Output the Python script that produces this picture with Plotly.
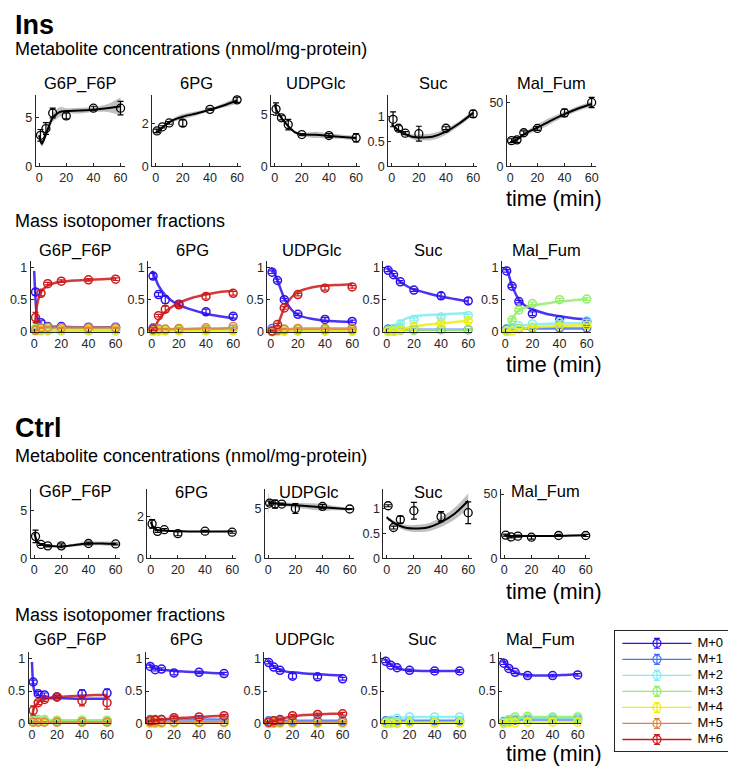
import plotly.graph_objects as go

# ---------------- data ----------------
T = [1, 5, 10, 20, 40, 60]
T_FIT = [0, 1, 2, 5, 10, 15, 20, 30, 40, 50, 60]
METABOLITES = ["G6P_F6P", "6PG", "UDPGlc", "Suc", "Mal_Fum"]
ISOTOPOMERS = ["M+0", "M+1", "M+2", "M+3", "M+4", "M+5", "M+6"]
ISO_COLORS = ["#2c10f0", "#4a72f2", "#7eeef2", "#94ee6a", "#eeee10", "#de8440", "#cc1a1a"]
X_TICKS = [0, 20, 40, 60]
CONC_Y_TICKS = [[0, 5], [0, 2], [0, 5], [0, 0.5, 1], [0, 50]]
INS_CONC_YMAX = [7.35, 3.3, 6.9, 1.44, 56]
CTRL_CONC_YMAX = [7.3, 3.33, 7.0, 1.4, 54]
MID_Y_TICKS = [0, 0.5, 1]
MID_YMAX = 1.1

# Ins - concentrations (mean, sd, fit at T_FIT, fit band half-width)
INS_G6P_F6P_CONC = [3.2, 3.9, 5.5, 5.2, 6.0, 6.0]
INS_G6P_F6P_CONC_ERR = [0.6, 0.6, 0.5, 0.3, 0.2, 0.7]
INS_G6P_F6P_CONC_FIT = [3.2, 2.6, 2.3, 3.3, 5.0, 5.6, 5.7, 5.75, 5.85, 6.0, 6.2]
INS_G6P_F6P_CONC_BAND = [0.3, 0.3, 0.3, 0.4, 0.4, 0.5, 0.3, 0.3, 0.25, 0.4, 0.9]
INS_6PG_CONC = [1.64, 1.83, 2.01, 2.0, 2.64, 3.08]
INS_6PG_CONC_ERR = [0.08, 0.05, 0.06, 0.15, 0.05, 0.12]
INS_6PG_CONC_FIT = [1.6, 1.6, 1.62, 1.8, 2.05, 2.2, 2.3, 2.45, 2.62, 2.82, 3.05]
INS_6PG_CONC_BAND = [0.1, 0.1, 0.08, 0.05, 0.06, 0.1, 0.12, 0.1, 0.06, 0.1, 0.15]
INS_UDPGLC_CONC = [5.55, 4.7, 4.04, 3.08, 2.98, 2.76]
INS_UDPGLC_CONC_ERR = [0.6, 0.2, 0.5, 0.1, 0.2, 0.4]
INS_UDPGLC_CONC_FIT = [6.0, 5.6, 5.3, 4.7, 3.9, 3.3, 3.1, 3.05, 2.95, 2.85, 2.75]
INS_UDPGLC_CONC_BAND = [0.6, 0.3, 0.2, 0.15, 0.15, 0.15, 0.15, 0.3, 0.25, 0.2, 0.2]
INS_SUC_CONC = [0.95, 0.77, 0.67, 0.66, 0.77, 1.06]
INS_SUC_CONC_ERR = [0.15, 0.05, 0.03, 0.15, 0.03, 0.07]
INS_SUC_CONC_FIT = [0.85, 0.82, 0.8, 0.73, 0.65, 0.6, 0.585, 0.6, 0.7, 0.87, 1.08]
INS_SUC_CONC_BAND = [0.04, 0.03, 0.03, 0.03, 0.03, 0.05, 0.06, 0.07, 0.06, 0.05, 0.05]
INS_MAL_FUM_CONC = [20.2, 20.8, 26.4, 29.8, 42.0, 50.2]
INS_MAL_FUM_CONC_ERR = [1.5, 2.0, 1.5, 1.5, 3.0, 4.0]
INS_MAL_FUM_CONC_FIT = [19.0, 19.3, 19.7, 21.0, 25.0, 28.0, 30.5, 36.0, 41.0, 45.5, 49.0]
INS_MAL_FUM_CONC_BAND = [1.0, 1.0, 1.0, 1.2, 1.5, 2.0, 2.5, 2.5, 2.0, 2.0, 2.0]

# Ctrl - concentrations
CTRL_G6P_F6P_CONC = [2.3, 1.45, 1.3, 1.3, 1.55, 1.5]
CTRL_G6P_F6P_CONC_ERR = [0.65, 0.1, 0.1, 0.2, 0.15, 0.1]
CTRL_G6P_F6P_CONC_FIT = [2.6, 2.2, 1.8, 1.45, 1.3, 1.25, 1.25, 1.4, 1.55, 1.55, 1.5]
CTRL_G6P_F6P_CONC_BAND = [0.5, 0.3, 0.15, 0.08, 0.06, 0.06, 0.08, 0.15, 0.2, 0.2, 0.25]
CTRL_6PG_CONC = [1.65, 1.29, 1.37, 1.18, 1.3, 1.25]
CTRL_6PG_CONC_ERR = [0.2, 0.05, 0.05, 0.1, 0.04, 0.05]
CTRL_6PG_CONC_FIT = [1.75, 1.6, 1.5, 1.35, 1.33, 1.31, 1.3, 1.28, 1.28, 1.28, 1.3]
CTRL_6PG_CONC_BAND = [0.4, 0.15, 0.08, 0.04, 0.03, 0.03, 0.03, 0.03, 0.03, 0.03, 0.04]
CTRL_UDPGLC_CONC = [5.57, 5.47, 5.47, 5.03, 5.23, 4.97]
CTRL_UDPGLC_CONC_ERR = [0.2, 0.4, 0.1, 0.5, 0.2, 0.05]
CTRL_UDPGLC_CONC_FIT = [5.6, 5.58, 5.57, 5.55, 5.45, 5.4, 5.35, 5.25, 5.15, 5.05, 4.95]
CTRL_UDPGLC_CONC_BAND = [1.2, 0.4, 0.2, 0.15, 0.15, 0.2, 0.25, 0.3, 0.35, 0.2, 0.1]
CTRL_SUC_CONC = [1.06, 0.62, 0.78, 0.96, 0.84, 0.92]
CTRL_SUC_CONC_ERR = [0.02, 0.03, 0.07, 0.17, 0.1, 0.22]
CTRL_SUC_CONC_FIT = [0.83, 0.8, 0.78, 0.72, 0.65, 0.61, 0.6, 0.62, 0.73, 0.9, 1.16]
CTRL_SUC_CONC_BAND = [0.04, 0.04, 0.04, 0.04, 0.05, 0.06, 0.07, 0.08, 0.1, 0.12, 0.15]
CTRL_MAL_FUM_CONC = [18.0, 16.6, 17.2, 16.4, 17.7, 17.7]
CTRL_MAL_FUM_CONC_ERR = [0.8, 0.8, 0.8, 1.5, 0.8, 0.8]
CTRL_MAL_FUM_CONC_FIT = [17.8, 17.7, 17.6, 17.4, 17.3, 17.3, 17.3, 17.3, 17.4, 17.6, 17.8]
CTRL_MAL_FUM_CONC_BAND = [0.8, 0.6, 0.5, 0.5, 0.5, 0.5, 0.5, 0.5, 0.6, 0.6, 0.8]

# Ins - mass isotopomer fractions (rows: M+0 ... M+6; None = not present)
INS_G6P_F6P_MID = [
    [0.62, 0.14, 0.08, 0.08, 0.07, 0.07],
    [0.03, 0.03, 0.02, 0.02, 0.02, 0.02],
    [0.02, 0.01, 0.01, 0.01, 0.01, 0.01],
    [0.05, 0.04, 0.04, 0.04, 0.04, 0.04],
    [0.01, 0.02, 0.02, 0.02, 0.02, 0.02],
    [0.02, 0.06, 0.07, 0.06, 0.06, 0.06],
    [0.22, 0.60, 0.75, 0.79, 0.81, 0.82],
]
INS_G6P_F6P_MID_ERR = [
    [0.05, 0.03, 0.01, 0.01, 0.01, 0.01],
    [0.01, 0.01, 0.01, 0.01, 0.01, 0.01],
    [0.01, 0.01, 0.01, 0.01, 0.01, 0.01],
    [0.01, 0.01, 0.01, 0.01, 0.01, 0.01],
    [0.01, 0.01, 0.01, 0.01, 0.01, 0.01],
    [0.01, 0.01, 0.01, 0.01, 0.01, 0.01],
    [0.08, 0.04, 0.02, 0.02, 0.02, 0.02],
]
INS_G6P_F6P_MID_FIT = [
    [0.95, 0.50, 0.25, 0.11, 0.08, 0.075, 0.075, 0.07, 0.07, 0.07, 0.07],
    [0.0, 0.04, 0.04, 0.03, 0.025, 0.02, 0.02, 0.02, 0.02, 0.02, 0.02],
    [0.0, 0.02, 0.02, 0.015, 0.01, 0.01, 0.01, 0.01, 0.01, 0.01, 0.01],
    [0.0, 0.04, 0.05, 0.045, 0.04, 0.04, 0.04, 0.04, 0.04, 0.04, 0.04],
    [0.0, 0.01, 0.015, 0.02, 0.02, 0.02, 0.02, 0.02, 0.02, 0.02, 0.02],
    [0.0, 0.02, 0.04, 0.06, 0.065, 0.065, 0.065, 0.065, 0.065, 0.065, 0.065],
    [0.0, 0.20, 0.40, 0.62, 0.72, 0.76, 0.78, 0.80, 0.81, 0.82, 0.83],
]
INS_6PG_MID = [
    [0.87, 0.58, 0.50, 0.43, 0.31, 0.24],
    [0.06, 0.04, 0.03, 0.03, 0.03, 0.03],
    [0.02, 0.02, 0.02, 0.02, 0.02, 0.02],
    [0.01, 0.01, 0.02, 0.02, 0.02, 0.02],
    [0.0, 0.01, 0.01, 0.01, 0.01, 0.01],
    [0.03, 0.04, 0.04, 0.05, 0.06, 0.08],
    [0.04, 0.25, 0.35, 0.42, 0.55, 0.60],
]
INS_6PG_MID_ERR = [
    [0.04, 0.03, 0.06, 0.03, 0.04, 0.03],
    [0.01, 0.01, 0.01, 0.01, 0.01, 0.01],
    [0.01, 0.01, 0.01, 0.01, 0.01, 0.01],
    [0.01, 0.01, 0.01, 0.01, 0.01, 0.01],
    [0.01, 0.01, 0.01, 0.01, 0.01, 0.01],
    [0.01, 0.01, 0.01, 0.01, 0.01, 0.02],
    [0.02, 0.02, 0.05, 0.03, 0.04, 0.03],
]
INS_6PG_MID_FIT = [
    [0.95, 0.92, 0.87, 0.72, 0.57, 0.48, 0.42, 0.34, 0.28, 0.24, 0.21],
    [0.0, 0.03, 0.04, 0.04, 0.035, 0.03, 0.03, 0.03, 0.03, 0.03, 0.03],
    [0.0, 0.01, 0.015, 0.02, 0.02, 0.02, 0.02, 0.02, 0.02, 0.02, 0.02],
    [0.0, 0.01, 0.01, 0.015, 0.02, 0.02, 0.02, 0.02, 0.02, 0.02, 0.02],
    [0.0, 0.005, 0.01, 0.01, 0.01, 0.01, 0.01, 0.01, 0.01, 0.01, 0.01],
    [0.0, 0.02, 0.025, 0.03, 0.035, 0.04, 0.04, 0.045, 0.05, 0.05, 0.055],
    [0.0, 0.02, 0.05, 0.18, 0.31, 0.39, 0.45, 0.53, 0.58, 0.62, 0.64],
]
INS_UDPGLC_MID = [
    [0.93, 0.80, 0.50, 0.27, 0.19, 0.16],
    [0.05, 0.03, 0.02, 0.02, 0.02, 0.02],
    [0.01, 0.01, 0.01, 0.01, 0.01, 0.01],
    [0.0, 0.01, 0.01, 0.01, 0.01, 0.01],
    [0.0, 0.0, 0.01, 0.01, 0.01, 0.01],
    [0.0, 0.02, 0.04, 0.05, 0.05, 0.05],
    [0.01, 0.11, 0.37, 0.58, 0.68, 0.70],
]
INS_UDPGLC_MID_ERR = [
    [0.02, 0.02, 0.02, 0.02, 0.03, 0.02],
    [0.01, 0.01, 0.01, 0.01, 0.01, 0.01],
    [0.01, 0.01, 0.01, 0.01, 0.01, 0.01],
    [0.01, 0.01, 0.01, 0.01, 0.01, 0.01],
    [0.01, 0.01, 0.01, 0.01, 0.01, 0.01],
    [0.01, 0.01, 0.01, 0.01, 0.01, 0.01],
    [0.01, 0.02, 0.02, 0.02, 0.03, 0.02],
]
INS_UDPGLC_MID_FIT = [
    [1.0, 0.98, 0.95, 0.80, 0.52, 0.35, 0.26, 0.20, 0.17, 0.16, 0.15],
    [0.0, 0.02, 0.03, 0.03, 0.025, 0.02, 0.02, 0.02, 0.02, 0.02, 0.02],
    [0.0, 0.005, 0.01, 0.01, 0.01, 0.01, 0.01, 0.01, 0.01, 0.01, 0.01],
    [0.0, 0.0, 0.005, 0.01, 0.01, 0.01, 0.01, 0.01, 0.01, 0.01, 0.01],
    [0.0, 0.0, 0.0, 0.005, 0.01, 0.01, 0.01, 0.01, 0.01, 0.01, 0.01],
    [0.0, 0.0, 0.005, 0.02, 0.035, 0.04, 0.045, 0.05, 0.05, 0.05, 0.05],
    [0.0, 0.0, 0.01, 0.10, 0.37, 0.53, 0.62, 0.69, 0.72, 0.73, 0.74],
]
INS_SUC_MID = [
    [0.96, 0.89, 0.78, 0.65, 0.56, 0.48],
    [0.04, 0.04, 0.03, 0.03, 0.03, 0.03],
    [0.01, 0.04, 0.12, 0.19, 0.23, 0.25],
    [0.02, 0.02, 0.02, 0.02, 0.03, 0.03],
    [0.0, 0.0, 0.03, 0.08, 0.13, 0.17],
    None,
    None,
]
INS_SUC_MID_ERR = [
    [0.02, 0.02, 0.02, 0.02, 0.05, 0.05],
    [0.01, 0.01, 0.01, 0.01, 0.01, 0.01],
    [0.01, 0.01, 0.01, 0.02, 0.02, 0.02],
    [0.01, 0.01, 0.01, 0.01, 0.01, 0.01],
    [0.01, 0.01, 0.01, 0.02, 0.03, 0.03],
    None,
    None,
]
INS_SUC_MID_FIT = [
    [1.0, 0.99, 0.97, 0.88, 0.78, 0.71, 0.66, 0.60, 0.55, 0.51, 0.47],
    [0.0, 0.03, 0.04, 0.04, 0.03, 0.03, 0.03, 0.03, 0.03, 0.03, 0.03],
    [0.0, 0.0, 0.01, 0.05, 0.15, 0.21, 0.24, 0.26, 0.27, 0.28, 0.29],
    [0.0, 0.01, 0.01, 0.015, 0.02, 0.02, 0.02, 0.02, 0.02, 0.02, 0.02],
    [0.0, 0.0, 0.0, 0.01, 0.04, 0.06, 0.08, 0.11, 0.13, 0.15, 0.17],
    None,
    None,
]
INS_MAL_FUM_MID = [
    [0.95, 0.71, 0.47, 0.28, 0.18, 0.16],
    [0.04, 0.05, 0.05, 0.06, 0.06, 0.06],
    [0.02, 0.06, 0.09, 0.12, 0.15, 0.17],
    [0.01, 0.18, 0.34, 0.44, 0.50, 0.51],
    [0.0, 0.01, 0.04, 0.07, 0.09, 0.10],
    None,
    None,
]
INS_MAL_FUM_MID_ERR = [
    [0.02, 0.02, 0.02, 0.03, 0.02, 0.02],
    [0.01, 0.01, 0.01, 0.01, 0.01, 0.01],
    [0.01, 0.01, 0.01, 0.01, 0.02, 0.02],
    [0.01, 0.02, 0.02, 0.02, 0.02, 0.02],
    [0.01, 0.01, 0.01, 0.01, 0.02, 0.02],
    None,
    None,
]
INS_MAL_FUM_MID_FIT = [
    [1.0, 0.97, 0.92, 0.72, 0.50, 0.40, 0.35, 0.28, 0.24, 0.21, 0.19],
    [0.0, 0.02, 0.03, 0.04, 0.05, 0.05, 0.05, 0.05, 0.05, 0.05, 0.05],
    [0.0, 0.0, 0.01, 0.04, 0.08, 0.10, 0.11, 0.12, 0.13, 0.13, 0.14],
    [0.0, 0.01, 0.04, 0.20, 0.33, 0.38, 0.41, 0.44, 0.47, 0.49, 0.51],
    [0.0, 0.0, 0.0, 0.01, 0.04, 0.055, 0.07, 0.08, 0.09, 0.095, 0.10],
    None,
    None,
]

# Ctrl - mass isotopomer fractions
CTRL_G6P_F6P_MID = [
    [0.64, 0.46, 0.44, 0.41, 0.46, 0.47],
    [0.03, 0.03, 0.03, 0.03, 0.03, 0.03],
    [0.04, 0.04, 0.04, 0.04, 0.04, 0.04],
    [0.06, 0.06, 0.06, 0.05, 0.05, 0.05],
    [0.02, 0.03, 0.03, 0.02, 0.02, 0.02],
    [0.02, 0.02, 0.02, 0.02, 0.02, 0.02],
    [0.20, 0.32, 0.37, 0.41, 0.35, 0.32],
]
CTRL_G6P_F6P_MID_ERR = [
    [0.03, 0.03, 0.03, 0.02, 0.06, 0.06],
    [0.01, 0.01, 0.01, 0.01, 0.01, 0.01],
    [0.01, 0.01, 0.01, 0.01, 0.01, 0.01],
    [0.01, 0.01, 0.01, 0.01, 0.01, 0.01],
    [0.01, 0.01, 0.01, 0.01, 0.01, 0.01],
    [0.01, 0.01, 0.01, 0.01, 0.01, 0.01],
    [0.07, 0.03, 0.03, 0.03, 0.08, 0.10],
]
CTRL_G6P_F6P_MID_FIT = [
    [0.95, 0.60, 0.50, 0.44, 0.40, 0.39, 0.39, 0.385, 0.38, 0.38, 0.38],
    [0.0, 0.03, 0.03, 0.03, 0.03, 0.03, 0.03, 0.03, 0.03, 0.03, 0.03],
    [0.0, 0.03, 0.04, 0.04, 0.04, 0.04, 0.04, 0.04, 0.04, 0.04, 0.04],
    [0.0, 0.04, 0.05, 0.05, 0.05, 0.05, 0.05, 0.05, 0.05, 0.05, 0.05],
    [0.0, 0.02, 0.02, 0.02, 0.02, 0.02, 0.02, 0.02, 0.02, 0.02, 0.02],
    [0.0, 0.02, 0.02, 0.02, 0.02, 0.02, 0.02, 0.02, 0.02, 0.02, 0.02],
    [0.05, 0.20, 0.25, 0.33, 0.38, 0.40, 0.41, 0.42, 0.43, 0.44, 0.44],
]
CTRL_6PG_MID = [
    [0.88, 0.83, 0.84, 0.78, 0.79, 0.77],
    [0.06, 0.06, 0.06, 0.06, 0.06, 0.06],
    [0.02, 0.02, 0.02, 0.02, 0.02, 0.02],
    [0.0, 0.0, 0.01, 0.01, 0.02, 0.02],
    [0.0, 0.0, 0.0, 0.01, 0.01, 0.01],
    [0.02, 0.02, 0.02, 0.02, 0.02, 0.02],
    [0.04, 0.05, 0.06, 0.09, 0.10, 0.12],
]
CTRL_6PG_MID_ERR = [
    [0.02, 0.02, 0.02, 0.03, 0.02, 0.02],
    [0.01, 0.01, 0.01, 0.01, 0.01, 0.01],
    [0.01, 0.01, 0.01, 0.01, 0.01, 0.01],
    [0.01, 0.01, 0.01, 0.01, 0.01, 0.01],
    [0.01, 0.01, 0.01, 0.01, 0.01, 0.01],
    [0.01, 0.01, 0.01, 0.01, 0.01, 0.01],
    [0.01, 0.01, 0.01, 0.02, 0.02, 0.02],
]
CTRL_6PG_MID_FIT = [
    [0.92, 0.90, 0.88, 0.85, 0.83, 0.82, 0.81, 0.80, 0.79, 0.78, 0.77],
    [0.0, 0.05, 0.06, 0.06, 0.06, 0.06, 0.06, 0.06, 0.06, 0.06, 0.06],
    [0.0, 0.02, 0.02, 0.02, 0.02, 0.02, 0.02, 0.02, 0.02, 0.02, 0.02],
    [0.0, 0.0, 0.005, 0.01, 0.01, 0.015, 0.015, 0.02, 0.02, 0.02, 0.02],
    [0.0, 0.0, 0.0, 0.005, 0.01, 0.01, 0.01, 0.01, 0.01, 0.01, 0.01],
    [0.0, 0.02, 0.02, 0.02, 0.02, 0.02, 0.02, 0.02, 0.02, 0.02, 0.02],
    [0.01, 0.03, 0.04, 0.05, 0.06, 0.07, 0.08, 0.09, 0.10, 0.11, 0.12],
]
CTRL_UDPGLC_MID = [
    [0.94, 0.87, 0.82, 0.73, 0.72, 0.69],
    [0.04, 0.04, 0.04, 0.04, 0.04, 0.04],
    [0.01, 0.01, 0.01, 0.01, 0.01, 0.01],
    [0.0, 0.01, 0.01, 0.01, 0.01, 0.01],
    [0.0, 0.0, 0.0, 0.0, 0.0, 0.0],
    [0.01, 0.01, 0.02, 0.02, 0.02, 0.02],
    [0.02, 0.04, 0.06, 0.12, 0.14, 0.15],
]
CTRL_UDPGLC_MID_ERR = [
    [0.02, 0.02, 0.02, 0.04, 0.03, 0.02],
    [0.01, 0.01, 0.01, 0.01, 0.01, 0.01],
    [0.01, 0.01, 0.01, 0.01, 0.01, 0.01],
    [0.01, 0.01, 0.01, 0.01, 0.01, 0.01],
    [0.01, 0.01, 0.01, 0.01, 0.01, 0.01],
    [0.01, 0.01, 0.01, 0.01, 0.01, 0.01],
    [0.01, 0.01, 0.01, 0.02, 0.02, 0.02],
]
CTRL_UDPGLC_MID_FIT = [
    [0.98, 0.96, 0.94, 0.88, 0.83, 0.80, 0.79, 0.77, 0.76, 0.75, 0.74],
    [0.0, 0.03, 0.04, 0.04, 0.04, 0.04, 0.04, 0.04, 0.04, 0.04, 0.04],
    [0.0, 0.01, 0.01, 0.01, 0.01, 0.01, 0.01, 0.01, 0.01, 0.01, 0.01],
    [0.0, 0.0, 0.005, 0.01, 0.01, 0.01, 0.01, 0.01, 0.01, 0.01, 0.01],
    [0.0, 0.0, 0.0, 0.0, 0.005, 0.005, 0.005, 0.005, 0.005, 0.005, 0.005],
    [0.0, 0.005, 0.01, 0.015, 0.02, 0.02, 0.02, 0.02, 0.02, 0.02, 0.02],
    [0.0, 0.01, 0.02, 0.04, 0.07, 0.09, 0.11, 0.13, 0.14, 0.15, 0.15],
]
CTRL_SUC_MID = [
    [0.96, 0.90, 0.86, 0.82, 0.81, 0.81],
    [0.04, 0.04, 0.04, 0.04, 0.04, 0.04],
    [0.02, 0.05, 0.08, 0.10, 0.10, 0.10],
    [0.01, 0.01, 0.01, 0.01, 0.01, 0.01],
    [0.0, 0.0, 0.0, 0.01, 0.01, 0.01],
    None,
    None,
]
CTRL_SUC_MID_ERR = [
    [0.02, 0.02, 0.02, 0.02, 0.02, 0.02],
    [0.01, 0.01, 0.01, 0.01, 0.01, 0.01],
    [0.01, 0.01, 0.01, 0.01, 0.01, 0.01],
    [0.01, 0.01, 0.01, 0.01, 0.01, 0.01],
    [0.01, 0.01, 0.01, 0.01, 0.01, 0.01],
    None,
    None,
]
CTRL_SUC_MID_FIT = [
    [1.0, 0.98, 0.96, 0.91, 0.86, 0.83, 0.82, 0.81, 0.81, 0.81, 0.81],
    [0.0, 0.03, 0.04, 0.04, 0.04, 0.04, 0.04, 0.04, 0.04, 0.04, 0.04],
    [0.0, 0.01, 0.02, 0.05, 0.08, 0.09, 0.10, 0.10, 0.10, 0.10, 0.10],
    [0.0, 0.01, 0.01, 0.01, 0.01, 0.01, 0.01, 0.01, 0.01, 0.01, 0.01],
    [0.0, 0.0, 0.0, 0.0, 0.005, 0.01, 0.01, 0.01, 0.01, 0.01, 0.01],
    None,
    None,
]
CTRL_MAL_FUM_MID = [
    [0.93, 0.85, 0.79, 0.74, 0.74, 0.75],
    [0.03, 0.04, 0.05, 0.06, 0.06, 0.06],
    [0.02, 0.05, 0.07, 0.08, 0.08, 0.08],
    [0.0, 0.06, 0.10, 0.11, 0.10, 0.10],
    [0.0, 0.01, 0.01, 0.02, 0.02, 0.02],
    None,
    None,
]
CTRL_MAL_FUM_MID_ERR = [
    [0.02, 0.02, 0.02, 0.02, 0.02, 0.02],
    [0.01, 0.01, 0.01, 0.01, 0.01, 0.01],
    [0.01, 0.01, 0.01, 0.01, 0.01, 0.01],
    [0.01, 0.01, 0.02, 0.02, 0.02, 0.02],
    [0.01, 0.01, 0.01, 0.01, 0.01, 0.01],
    None,
    None,
]
CTRL_MAL_FUM_MID_FIT = [
    [1.0, 0.97, 0.94, 0.85, 0.79, 0.76, 0.75, 0.74, 0.74, 0.75, 0.76],
    [0.0, 0.02, 0.03, 0.04, 0.05, 0.06, 0.06, 0.06, 0.06, 0.06, 0.06],
    [0.0, 0.01, 0.02, 0.05, 0.07, 0.08, 0.08, 0.08, 0.08, 0.08, 0.08],
    [0.0, 0.01, 0.02, 0.06, 0.09, 0.10, 0.10, 0.10, 0.10, 0.10, 0.10],
    [0.0, 0.0, 0.0, 0.005, 0.01, 0.015, 0.02, 0.02, 0.02, 0.02, 0.02],
    None,
    None,
]

# ---------------- assemble ----------------
INS_CONC = [
    (INS_G6P_F6P_CONC, INS_G6P_F6P_CONC_ERR, INS_G6P_F6P_CONC_FIT, INS_G6P_F6P_CONC_BAND),
    (INS_6PG_CONC, INS_6PG_CONC_ERR, INS_6PG_CONC_FIT, INS_6PG_CONC_BAND),
    (INS_UDPGLC_CONC, INS_UDPGLC_CONC_ERR, INS_UDPGLC_CONC_FIT, INS_UDPGLC_CONC_BAND),
    (INS_SUC_CONC, INS_SUC_CONC_ERR, INS_SUC_CONC_FIT, INS_SUC_CONC_BAND),
    (INS_MAL_FUM_CONC, INS_MAL_FUM_CONC_ERR, INS_MAL_FUM_CONC_FIT, INS_MAL_FUM_CONC_BAND),
]
CTRL_CONC = [
    (CTRL_G6P_F6P_CONC, CTRL_G6P_F6P_CONC_ERR, CTRL_G6P_F6P_CONC_FIT, CTRL_G6P_F6P_CONC_BAND),
    (CTRL_6PG_CONC, CTRL_6PG_CONC_ERR, CTRL_6PG_CONC_FIT, CTRL_6PG_CONC_BAND),
    (CTRL_UDPGLC_CONC, CTRL_UDPGLC_CONC_ERR, CTRL_UDPGLC_CONC_FIT, CTRL_UDPGLC_CONC_BAND),
    (CTRL_SUC_CONC, CTRL_SUC_CONC_ERR, CTRL_SUC_CONC_FIT, CTRL_SUC_CONC_BAND),
    (CTRL_MAL_FUM_CONC, CTRL_MAL_FUM_CONC_ERR, CTRL_MAL_FUM_CONC_FIT, CTRL_MAL_FUM_CONC_BAND),
]
INS_MIDS = [
    (INS_G6P_F6P_MID, INS_G6P_F6P_MID_ERR, INS_G6P_F6P_MID_FIT),
    (INS_6PG_MID, INS_6PG_MID_ERR, INS_6PG_MID_FIT),
    (INS_UDPGLC_MID, INS_UDPGLC_MID_ERR, INS_UDPGLC_MID_FIT),
    (INS_SUC_MID, INS_SUC_MID_ERR, INS_SUC_MID_FIT),
    (INS_MAL_FUM_MID, INS_MAL_FUM_MID_ERR, INS_MAL_FUM_MID_FIT),
]
CTRL_MIDS = [
    (CTRL_G6P_F6P_MID, CTRL_G6P_F6P_MID_ERR, CTRL_G6P_F6P_MID_FIT),
    (CTRL_6PG_MID, CTRL_6PG_MID_ERR, CTRL_6PG_MID_FIT),
    (CTRL_UDPGLC_MID, CTRL_UDPGLC_MID_ERR, CTRL_UDPGLC_MID_FIT),
    (CTRL_SUC_MID, CTRL_SUC_MID_ERR, CTRL_SUC_MID_FIT),
    (CTRL_MAL_FUM_MID, CTRL_MAL_FUM_MID_ERR, CTRL_MAL_FUM_MID_FIT),
]

# ---------------- layout geometry (window pixels) ----------------
WIN_W, WIN_H = 736, 774
PAGE_OFFSET = 8                      # default page margin of the html body
W, H = WIN_W - PAGE_OFFSET, WIN_H - PAGE_OFFSET
FONT = "Liberation Sans, Arial, Helvetica, sans-serif"
AX_COLOR = "#262626"
ROW_Y_PX = [(95, 167), (263, 334), (493, 563), (658, 730)]
ROW_LEFT_PX = [
    [30, 148, 268.5, 387, 507],
    [25, 144, 264.5, 382, 502],
    [25, 143, 262, 382, 501],
    [23, 141.5, 261.5, 380, 499.5],
]
ROW_WIDTH_PX = [90, 90, 90, 83]
TITLE_Y_PX = [83, 252, 496, 645]
TIME_LABEL_Y_PX = [200, 368, 597, 760.5]
X_RANGE = [-2.5, 63]


def px(x):
    return (x - PAGE_OFFSET) / W


def py(y):
    return 1 - (y - PAGE_OFFSET) / H


fig = go.Figure()
layout_axes = {}
annotations = []


def axis_names(k):
    return ("x" if k == 1 else f"x{k}"), ("y" if k == 1 else f"y{k}")


for r in range(4):
    for c in range(5):
        k = r * 5 + c + 1
        xname, yname = axis_names(k)
        left = ROW_LEFT_PX[r][c]
        xdom = [px(left), px(left + ROW_WIDTH_PX[r])]
        ydom = [py(ROW_Y_PX[r][1]), py(ROW_Y_PX[r][0])]
        is_conc = r in (0, 2)
        if is_conc:
            ymax = (INS_CONC_YMAX if r == 0 else CTRL_CONC_YMAX)[c]
            yticks = CONC_Y_TICKS[c]
        else:
            ymax = MID_YMAX
            yticks = MID_Y_TICKS
        common = dict(showline=True, linecolor=AX_COLOR, linewidth=1, showgrid=False,
                      zeroline=False, ticks="inside", ticklen=3, tickcolor=AX_COLOR,
                      tickfont=dict(family=FONT, size=12.5, color=AX_COLOR))
        layout_axes["xaxis" if k == 1 else f"xaxis{k}"] = dict(
            domain=xdom, range=X_RANGE, anchor=yname, tickvals=X_TICKS,
            ticktext=[str(v) for v in X_TICKS], **common)
        layout_axes["yaxis" if k == 1 else f"yaxis{k}"] = dict(
            domain=ydom, range=[0, ymax], anchor=xname, tickvals=yticks,
            ticktext=[("%g" % v) for v in yticks], **common)
        annotations.append(dict(text=METABOLITES[c], x=px(left + ROW_WIDTH_PX[r] / 2),
                                y=py(TITLE_Y_PX[r]), xref="paper", yref="paper",
                                xanchor="center", yanchor="middle", showarrow=False,
                                font=dict(family=FONT, size=16.5, color="black")))

        if is_conc:
            mean, err, fit, band = (INS_CONC if r == 0 else CTRL_CONC)[c]
            upper = [f + b for f, b in zip(fit, band)]
            lower = [f - b for f, b in zip(fit, band)]
            fig.add_trace(go.Scatter(x=T_FIT, y=upper, mode="lines", xaxis=xname, yaxis=yname,
                                     line=dict(width=0, shape="spline", smoothing=0.8),
                                     showlegend=False, hoverinfo="skip"))
            fig.add_trace(go.Scatter(x=T_FIT, y=lower, mode="lines", xaxis=xname, yaxis=yname,
                                     fill="tonexty", fillcolor="rgba(150,150,150,0.6)",
                                     line=dict(width=0, shape="spline", smoothing=0.8),
                                     showlegend=False, hoverinfo="skip"))
            fig.add_trace(go.Scatter(x=T_FIT, y=fit, mode="lines", xaxis=xname, yaxis=yname,
                                     line=dict(color="black", width=2, shape="spline", smoothing=0.8),
                                     showlegend=False, cliponaxis=False))
            fig.add_trace(go.Scatter(x=T, y=mean, mode="markers", xaxis=xname, yaxis=yname,
                                     marker=dict(symbol="circle-open", size=8, color="black",
                                                 line=dict(width=1.3)),
                                     error_y=dict(type="data", array=err, visible=True,
                                                  color="black", thickness=1.2, width=3),
                                     showlegend=False, cliponaxis=False))
        else:
            means, errs, fits = (INS_MIDS if r == 1 else CTRL_MIDS)[c]
            for i in range(len(ISOTOPOMERS)):
                if fits[i] is None:
                    continue
                fig.add_trace(go.Scatter(x=T_FIT, y=fits[i], mode="lines", xaxis=xname, yaxis=yname,
                                         line=dict(color=ISO_COLORS[i], width=2.5, shape="spline",
                                                   smoothing=0.6),
                                         opacity=0.85, showlegend=False, cliponaxis=False))
            for i in range(len(ISOTOPOMERS)):
                if means[i] is None:
                    continue
                fig.add_trace(go.Scatter(x=T, y=means[i], mode="markers", xaxis=xname, yaxis=yname,
                                         marker=dict(symbol="circle-open", size=8, color=ISO_COLORS[i],
                                                     line=dict(width=1.5)),
                                         error_y=dict(type="data", array=errs[i], visible=True,
                                                      color=ISO_COLORS[i], thickness=1.2, width=3),
                                         name=ISOTOPOMERS[i], showlegend=False, cliponaxis=False))

# ---------------- legend box (drawn in its own small axis) ----------------
LEG_LEFT, LEG_RIGHT, LEG_TOP, LEG_BOTTOM = 617, 733, 637, 758
LEG_ROW_PX = 16.2
lk = 21
lx, ly = axis_names(lk)
layout_axes[f"xaxis{lk}"] = dict(domain=[px(LEG_LEFT), px(LEG_RIGHT)], range=[0, LEG_RIGHT - LEG_LEFT],
                                 anchor=ly, showline=True, mirror=True, linecolor=AX_COLOR, linewidth=1,
                                 showticklabels=False, ticks="", showgrid=False, zeroline=False,
                                 fixedrange=True)
layout_axes[f"yaxis{lk}"] = dict(domain=[py(LEG_BOTTOM), py(LEG_TOP)], range=[LEG_BOTTOM - LEG_TOP, 0],
                                 anchor=lx, showline=True, mirror=True, linecolor=AX_COLOR, linewidth=1,
                                 showticklabels=False, ticks="", showgrid=False, zeroline=False,
                                 fixedrange=True)
for i, name in enumerate(ISOTOPOMERS):
    yy = 12 + LEG_ROW_PX * i
    fig.add_trace(go.Scatter(x=[7, 77], y=[yy, yy], mode="lines", xaxis=lx, yaxis=ly,
                             line=dict(color=ISO_COLORS[i], width=1.3), showlegend=False,
                             hoverinfo="skip"))
    fig.add_trace(go.Scatter(x=[42], y=[yy], mode="markers", xaxis=lx, yaxis=ly,
                             marker=dict(symbol="circle-open", size=8, color=ISO_COLORS[i],
                                         line=dict(width=1.3)),
                             error_y=dict(type="constant", value=5, color=ISO_COLORS[i],
                                          thickness=1.2, width=3),
                             showlegend=False, hoverinfo="skip", cliponaxis=False))
    fig.add_trace(go.Scatter(x=[83], y=[yy], mode="text", text=[name], textposition="middle right",
                             xaxis=lx, yaxis=ly, textfont=dict(family=FONT, size=13, color="black"),
                             showlegend=False, hoverinfo="skip", cliponaxis=False))

# ---------------- headers ----------------
HEADERS = [
    ("<b>Ins</b>", 8, 24, 27),
    ("Metabolite concentrations (nmol/mg-protein)", 8, 48, 18),
    ("Mass isotopomer fractions", 8, 222, 18),
    ("<b>Ctrl</b>", 8, 431, 27),
    ("Metabolite concentrations (nmol/mg-protein)", 8, 460, 18),
    ("Mass isotopomer fractions", 8, 620, 18),
]
for text, x0, y0, size in HEADERS:
    annotations.append(dict(text=text, x=px(x0), y=py(y0), xref="paper", yref="paper",
                            xanchor="left", yanchor="middle", showarrow=False, borderpad=0,
                            font=dict(family=FONT, size=size, color="black")))
for y0 in TIME_LABEL_Y_PX:
    annotations.append(dict(text="time (min)", x=px(555), y=py(y0), xref="paper", yref="paper",
                            xanchor="center", yanchor="middle", showarrow=False, borderpad=0,
                            font=dict(family=FONT, size=21.5, color="black")))

fig.update_layout(width=W, height=H, margin=dict(l=0, r=0, t=0, b=0),
                  paper_bgcolor="white", plot_bgcolor="white", showlegend=False,
                  annotations=annotations, **layout_axes)

fig.write_html("out.html")
